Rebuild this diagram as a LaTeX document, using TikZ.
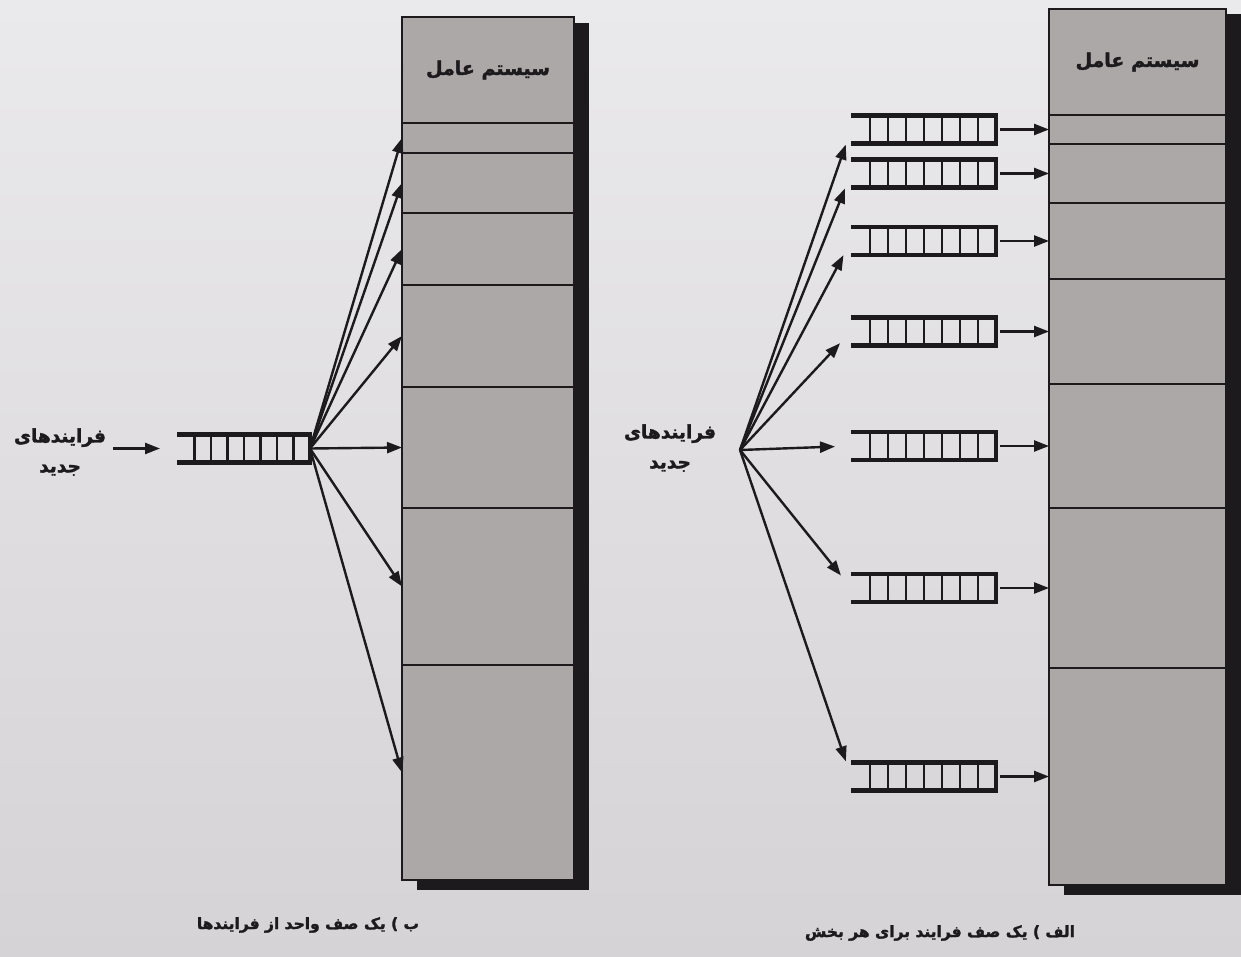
\documentclass[tikz,border=0pt]{standalone}
\usepackage{fontspec}
\usetikzlibrary{arrows.meta,calc}
\TeXXeTstate=1
\newfontfamily\fa[Script=Arabic, FakeBold=1.8]{DejaVu Sans}
\definecolor{paperTop}{RGB}{234,233,235}
\definecolor{paperBot}{RGB}{214,211,214}
\definecolor{colfill}{RGB}{172,168,168}
\definecolor{ink}{RGB}{28,26,28}

% queue glyph: open left end, closed right end, seven rungs
\newcommand{\queuebars}[2]{%
  \draw[qbar] (#1.north west) -- (#1.north east) -- (#1.south east) -- (#1.south west);
  \foreach \k in {1,...,7}{\draw[qrung] ([xshift=-\k*#2]#1.north east) -- ([xshift=-\k*#2]#1.south east);}
}

\begin{document}
\begin{tikzpicture}[x=1pt,y=-1pt,
  cell/.style={draw=ink, line width=2.5pt, fill=colfill, inner sep=0pt, outer sep=0pt},
  lcell/.style={cell, minimum width=172pt},
  rcell/.style={cell, minimum width=177pt},
  shadowfill/.style={fill=ink},
  arr/.style={draw=ink, line width=2.4pt, -{Triangle[length=15pt,width=11pt]}},
  qnode/.style={inner sep=0pt, outer sep=0pt, minimum height=28pt},
  qbar/.style={draw=ink, line width=4.5pt, line join=miter},
  qrung/.style={draw=ink, line width=2.4pt},
  oslabel/.style={font=\fa\bfseries\fontsize{19}{22}\selectfont, text=ink},
  newlabel/.style={font=\fa\bfseries\fontsize{18.5}{30}\selectfont, text=ink, align=center, inner sep=0pt},
  caption/.style={font=\fa\bfseries\fontsize{15.5}{18}\selectfont, text=ink}
]
\useasboundingbox (0,0) rectangle (1241,957);
\shade[top color=paperTop, bottom color=paperBot] (0,0) rectangle (1241,957);

% ---------- left: single queue ----------
\node[lcell, minimum height=106pt, oslabel] (L0) at (488,70) {\beginR سیستم عامل\endR};
\node[lcell, minimum height=30pt]  (L1) at (488,138) {};
\node[lcell, minimum height=60pt]  (L2) at (488,183) {};
\node[lcell, minimum height=72pt]  (L3) at (488,249) {};
\node[lcell, minimum height=102pt] (L4) at (488,336) {};
\node[lcell, minimum height=121pt] (L5) at (488,447.5) {};
\node[lcell, minimum height=157pt] (L6) at (488,586.5) {};
\node[lcell, minimum height=215pt] (L7) at (488,772.5) {};
% drop shadow: right strip and bottom strip
\fill[shadowfill] ([shift={(0,6)}]L0.north east) rectangle ([shift={(15,10)}]L7.south east);
\fill[shadowfill] ([shift={(15,0)}]L7.south west) rectangle ([shift={(15,10)}]L7.south east);
\foreach \n in {L0,L1,L2,L3,L4,L5,L6,L7}{\draw[ink, line width=2.5pt] (\n.north west) rectangle (\n.south east);}

\node[qnode, minimum width=133pt] (qL) at (243.5,448.5) {};
\queuebars{qL}{16.5pt}

\node[newlabel] (lblL) at (60,452) {\beginR فرایندهای\endR\\\beginR جدید\endR};
\draw[arr, shorten <=7pt, shorten >=17pt] (lblL.east |- qL.west) -- (qL.west);

\foreach \n in {L1,L2,L3,L4,L5,L6,L7}{\draw[arr] (qL.east) -- (\n.west);}

\node[caption] (capL) at (308,925) {\beginR ب ) یک صف واحد از فرایندها\endR};

% ---------- right: one queue per partition ----------
\node[rcell, minimum height=106pt, oslabel] (R0) at (1137.5,62) {\beginR سیستم عامل\endR};
\node[rcell, minimum height=29pt]  (R1) at (1137.5,129.5) {};
\node[rcell, minimum height=59pt]  (R2) at (1137.5,173.5) {};
\node[rcell, minimum height=76pt]  (R3) at (1137.5,241) {};
\node[rcell, minimum height=105pt] (R4) at (1137.5,331.5) {};
\node[rcell, minimum height=124pt] (R5) at (1137.5,446) {};
\node[rcell, minimum height=160pt] (R6) at (1137.5,588) {};
\node[rcell, minimum height=217pt] (R7) at (1137.5,776.5) {};
\fill[shadowfill] ([shift={(0,5)}]R0.north east) rectangle ([shift={(15,10)}]R7.south east);
\fill[shadowfill] ([shift={(15,0)}]R7.south west) rectangle ([shift={(15,10)}]R7.south east);
\foreach \n in {R0,R1,R2,R3,R4,R5,R6,R7}{\draw[ink, line width=2.5pt] (\n.north west) rectangle (\n.south east);}

\coordinate (srcR) at (740,450);
\node[newlabel] (lblR) at (670,448) {\beginR فرایندهای\endR\\\beginR جدید\endR};

\foreach \i in {1,...,7}{
  \node[qnode, minimum width=145pt] (qR\i) at (923.5,0 |- R\i.center) {};
  \queuebars{qR\i}{18pt}
  \draw[arr, shorten <=4pt] (qR\i.east) -- (qR\i.east -| R\i.west);
  \draw[arr, shorten >=16pt] (srcR) -- (qR\i.west);
}

\node[caption] (capR) at (940,933) {\beginR الف ) یک صف فرایند برای هر بخش\endR};
\end{tikzpicture}
\end{document}
